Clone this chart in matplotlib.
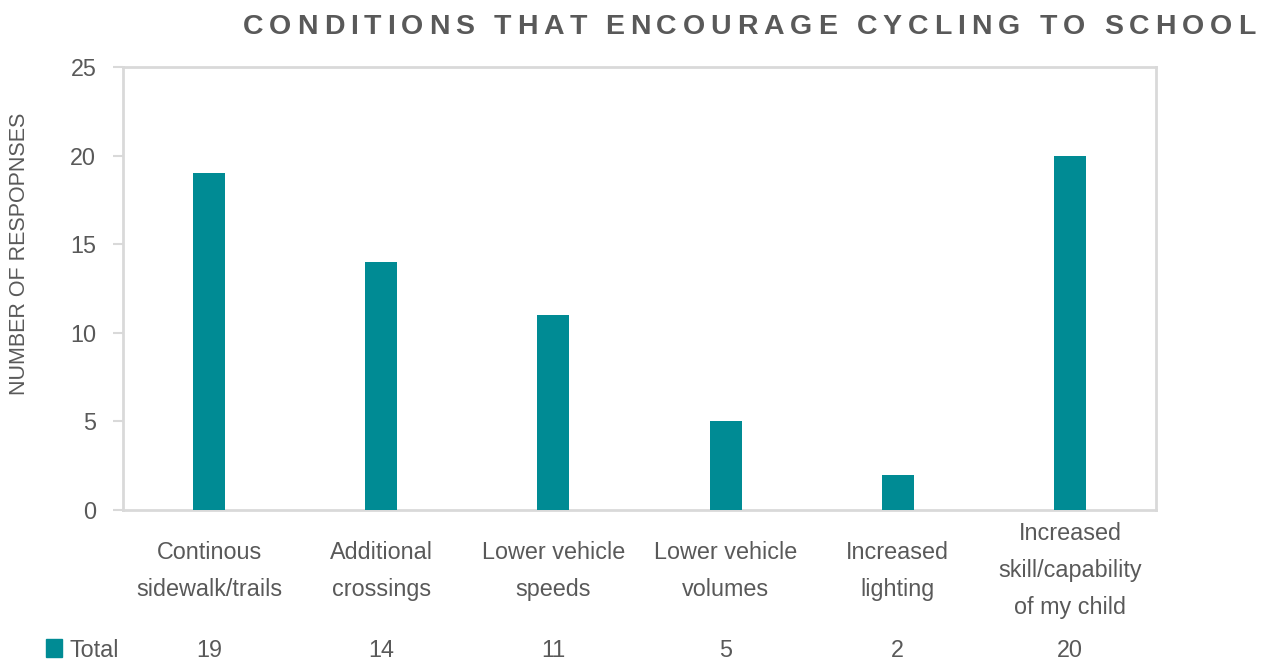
import matplotlib
matplotlib.use("Agg")
import matplotlib.pyplot as plt
from matplotlib.font_manager import FontProperties
from matplotlib.patches import Rectangle

categories = ["Continous\nsidewalk/trails", "Additional\ncrossings", "Lower vehicle\nspeeds",
              "Lower vehicle\nvolumes", "Increased\nlighting", "Increased\nskill/capability\nof my child"]
values = [19, 14, 11, 5, 2, 20]
series_name = "Total"
title = "CONDITIONS THAT ENCOURAGE CYCLING TO SCHOOL"
ylabel = "NUMBER OF RESPOPNSES"
yticks = [0, 5, 10, 15, 20, 25]

BAR = "#008B94"
TXT = "#595959"
GRID = "#D9D9D9"
FONT = "Liberation Sans"

W, H = 1268, 662
fig = plt.figure(figsize=(W / 100, H / 100), dpi=100)
ax = fig.add_axes([123 / W, 1 - 510 / H, (1156 - 123) / W, (510 - 67) / H])

x = list(range(len(categories)))
ax.bar(x, values, width=0.186, color=BAR, zorder=3)
ax.set_xlim(-0.5, len(categories) - 0.5)
ax.set_ylim(0, 25)
ax.set_yticks(yticks)
ax.set_yticklabels([str(t) for t in yticks], fontsize=16.8, color=TXT, family=FONT)
ax.tick_params(axis="y", length=7.2, width=1.5, color=GRID, pad=12)
ax.set_xticks([])
for s in ax.spines.values():
    s.set_color(GRID)
    s.set_linewidth(2)

# category labels, vertically centred below the axis
for xi, c in zip(x, categories):
    ax.text(xi, -3.42, c, ha="center", va="center", multialignment="center",
            fontsize=16.8, color=TXT, family=FONT, linespacing=1.78,
            transform=ax.transData, clip_on=False)

# data table row
row_base = 1 - 657 / H
fig.patches.append(Rectangle((46 / W, 1 - 657 / H), 16 / W, 18 / H,
                             transform=fig.transFigure, color=BAR, figure=fig))
fig.text(69 / W, row_base, series_name, ha="left", va="baseline", fontsize=16.8,
         color=TXT, family=FONT)
for xi, v in zip(x, values):
    xd = ax.transData.transform((xi, 0))[0] / W
    fig.text(xd, row_base, str(v), ha="center", va="baseline", fontsize=16.8,
             color=TXT, family=FONT)

# y label
fig.text(20 / W, 1 - 254 / H, ylabel, rotation=90, ha="center", va="center",
         fontsize=15.5, color=TXT, family=FONT)

# letter-spaced title
fig.canvas.draw()
r = fig.canvas.get_renderer()
prop = FontProperties(family=FONT, weight="bold", size=20.5)
x0, x1 = 243.0, 1255.0
n = len(title)
widths = []
for i in range(n + 1):
    w, h, d = r.get_text_width_height_descent(title[:i], prop, ismath=False)
    widths.append(w)
full = widths[-1]
spacing = (x1 - x0 - full) / (n - 1)
for i, ch in enumerate(title):
    if ch == " ":
        continue
    px = x0 + widths[i] + i * spacing
    fig.text(px / W, 1 - 34.5 / H, ch, ha="left", va="baseline", fontproperties=prop, color=TXT)

fig.savefig("out.png", dpi=100)
